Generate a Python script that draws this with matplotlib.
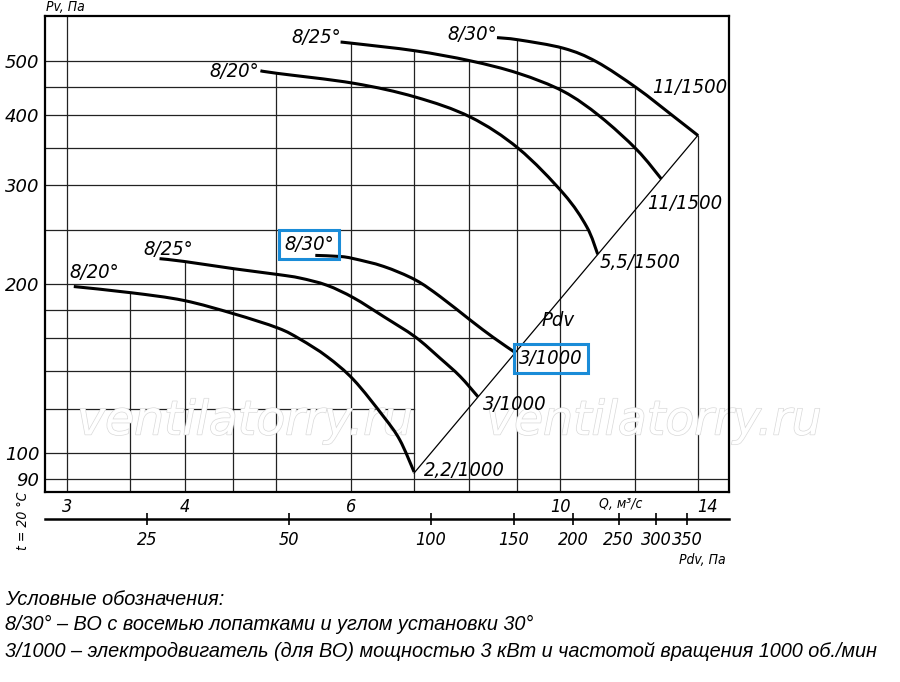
import matplotlib
matplotlib.use('Agg')
import matplotlib.pyplot as plt
import matplotlib.patheffects as pe
from matplotlib.font_manager import FontProperties
from matplotlib.ticker import NullLocator, NullFormatter
from matplotlib.transforms import ScaledTranslation
from matplotlib.path import Path
from matplotlib.patches import PathPatch
import numpy as np

# fan 8 curves, Q in m3/s, Pv in Pa
# lower group (1000 rpm)
q_20_low = [3.05, 3.51, 3.99, 4.51, 5.02, 5.30, 5.66, 6.04, 6.50, 6.76, 7.0]
pv_20_low = [198, 193, 187, 177, 167, 159.5, 148.5, 135, 116, 105.5, 92.5]
q_25_low = [3.76, 3.99, 4.51, 5.02, 5.30, 5.66, 6.04, 6.50, 7.02, 7.46, 7.83, 8.18]
pv_25_low = [222, 219.5, 213, 208, 205, 199, 189, 175, 161, 147.5, 137, 126]
q_30_low = [5.50, 5.84, 6.04, 6.50, 7.02, 7.46, 8.03, 8.50, 8.96]
pv_30_low = [225, 224, 222, 215, 203.5, 190, 172.5, 160.5, 151]
# upper group (1500 rpm)
q_20_up = [4.81, 5.01, 6.04, 7.02, 8.03, 9.03, 10.08, 10.67, 10.96]
pv_20_up = [480, 475, 456, 431, 397, 349, 290, 253, 226]
q_25_up = [5.85, 6.04, 7.02, 8.03, 9.03, 10.08, 11.02, 12.06, 12.8]
pv_25_up = [540, 537, 521, 500, 475, 441, 398, 347, 308]
q_30_up = [8.57, 9.03, 10.08, 10.93, 12.06, 13.19, 14.0]
pv_30_up = [550, 545, 526.5, 498, 447, 398, 368]

angle_labels = ['8/20°', '8/25°', '8/30°', '8/20°', '8/25°', '8/30°']
motor_labels = ['2,2/1000', '3/1000', '3/1000', '5,5/1500', '11/1500', '11/1500']

# dynamic pressure line Pdv
pdv_line_q = [7.0, 14.0]
pdv_line_pv = [92.1, 368.5]
K_PDV = 1.88  # Pdv = K * Q^2

q_grid = [3, 3.5, 4, 4.5, 5, 6, 7, 8, 9, 10, 12, 14]
q_ticks = [3, 4, 6, 10, 14]
pv_grid = [90, 100, 120, 140, 160, 180, 200, 250, 300, 350, 400, 450, 500]
pv_ticks = [90, 100, 200, 300, 400, 500]
pdv_ticks = [25, 50, 100, 150, 200, 250, 300, 350]

XMIN, XMAX = 2.843, 15.1
YMIN, YMAX = 85.2, 601

BLUE = '#1a8cd8'

fp_tick = FontProperties(family='DejaVu Sans', style='oblique', size=13)
fp_tickc = FontProperties(family='DejaVu Sans', style='oblique', stretch='condensed', size=13)
fp_lab = FontProperties(family='DejaVu Sans', style='oblique', stretch='condensed', size=14.5)
fp_small = FontProperties(family='DejaVu Sans', style='oblique', stretch='condensed', size=10)
fp_note = FontProperties(family=['Liberation Sans', 'DejaVu Sans'], style='italic', size=14.3)

fig = plt.figure(figsize=(9, 6.82), dpi=100)
ax = fig.add_axes([45 / 900, 190 / 682, 684 / 900, 476 / 682])
ax.set_xscale('log')
ax.set_yscale('log')
ax.set_xlim(XMIN, XMAX)
ax.set_ylim(YMIN, YMAX)

curves = [(q_20_low, pv_20_low), (q_25_low, pv_25_low), (q_30_low, pv_30_low),
          (q_20_up, pv_20_up), (q_25_up, pv_25_up), (q_30_up, pv_30_up)]


def pv_at(q, qs, pvs):
    return 10 ** np.interp(np.log10(q), np.log10(qs), np.log10(pvs))


def q_at(p, qs, pvs):
    return 10 ** np.interp(np.log10(p), np.log10(pvs[::-1]), np.log10(qs[::-1]))


def smooth_path(qs, pvs):
    # bezier path through the read points (control points built in log space)
    P = np.column_stack([np.log10(qs), np.log10(pvs)])
    ext = np.vstack([P[0], P, P[-1]])
    verts = [P[0]]
    codes = [Path.MOVETO]
    for i in range(len(P) - 1):
        c1 = ext[i + 1] + (ext[i + 2] - ext[i]) / 6
        c2 = ext[i + 2] - (ext[i + 3] - ext[i + 1]) / 6
        verts += [c1, c2, P[i + 1]]
        codes += [Path.CURVE4] * 3
    return Path(10 ** np.array(verts), codes)


# grid, clipped to the working area like in the original
grid_kw = dict(color='#222222', lw=0.9, zorder=1)
for q in q_grid:
    tops = [pv_at(q, c[0], c[1]) for c in curves if c[0][0] <= q <= c[0][-1]]
    top = max(tops) if tops else YMAX
    ax.plot([q, q], [YMIN, top], **grid_kw)
for p in pv_grid:
    if p < pdv_line_pv[0]:
        right = XMAX
    else:
        cands = []
        if p <= pdv_line_pv[1]:
            cands.append(q_at(p, pdv_line_q, pdv_line_pv))
        for c in curves:
            if min(c[1]) <= p <= max(c[1]):
                cands.append(q_at(p, c[0], c[1]))
        right = max(cands) if cands else XMAX
    ax.plot([XMIN, right], [p, p], **grid_kw)

ax.plot(pdv_line_q, pdv_line_pv, color='black', lw=0.9, zorder=2)

for q, pv in curves:
    ax.add_patch(PathPatch(smooth_path(q, pv), fc='none', ec='black', lw=2.2,
                           capstyle='butt', joinstyle='round', zorder=3))

# angle labels at curve start: (ha, dx, dy) in pixels
start_pos = [('left', -4, 9), ('left', -16, 4), ('left', -31, 5),
             ('right', -1, -6), ('right', 0, -1), ('right', 0, -2)]
end_pos = [(10, -4), (5, -13), (4, -11), (2, -14), (-14, -30), (-46, 43)]
for i, (q, pv) in enumerate(curves):
    ha, dx, dy = start_pos[i]
    box = dict(boxstyle='square,pad=0.25', fc='none', ec=BLUE, lw=2.2) if i == 2 else None
    ax.annotate(angle_labels[i], (q[0], pv[0]), xytext=(dx, dy), textcoords='offset pixels',
                ha=ha, va='baseline', fontproperties=fp_lab, bbox=box, zorder=4)
    dx, dy = end_pos[i]
    box = dict(boxstyle='square,pad=0.25', fc='none', ec=BLUE, lw=2.2) if i == 2 else None
    ax.annotate(motor_labels[i], (q[-1], pv[-1]), xytext=(dx, dy), textcoords='offset pixels',
                ha='left', va='baseline', fontproperties=fp_lab, bbox=box, zorder=4)

ax.text(9.55, 172, 'Pdv', ha='left', va='center', fontproperties=fp_lab, zorder=4)

# ticks
ax.xaxis.set_minor_locator(NullLocator())
ax.xaxis.set_minor_formatter(NullFormatter())
ax.yaxis.set_minor_locator(NullLocator())
ax.yaxis.set_minor_formatter(NullFormatter())
ax.set_xticks(q_ticks)
ax.set_xticklabels([str(v) for v in q_ticks])
ax.set_yticks(pv_ticks)
ax.set_yticklabels([str(v) for v in pv_ticks])
ax.tick_params(axis='both', length=0)
ax.tick_params(axis='x', pad=4)
ax.tick_params(axis='y', pad=4)
for lbl in ax.get_xticklabels():
    lbl.set_fontproperties(fp_tickc)
for lbl in ax.get_yticklabels():
    lbl.set_fontproperties(fp_tick)
ax.get_xticklabels()[-1].set_transform(
    ax.get_xticklabels()[-1].get_transform() + ScaledTranslation(0.09, 0, fig.dpi_scale_trans))
for s in ax.spines.values():
    s.set_linewidth(1.6)

# secondary Pdv scale under the Q axis
sec = ax.secondary_xaxis(-0.0567, functions=(lambda q: K_PDV * np.asarray(q) ** 2,
                                             lambda p: np.sqrt(np.maximum(p, 1e-9) / K_PDV)))
sec.xaxis.set_minor_locator(NullLocator())
sec.xaxis.set_minor_formatter(NullFormatter())
sec.set_xticks(pdv_ticks)
sec.set_xticklabels([str(v) for v in pdv_ticks])
sec.tick_params(axis='x', direction='inout', length=9, width=1.2, pad=4.5)
sec.spines['bottom'].set_linewidth(1.8)
for lbl in sec.get_xticklabels():
    lbl.set_fontproperties(fp_tickc)

# axis titles
fig.text(46 / 900, 1 - 7 / 682, 'Pv, Па', ha='left', va='center', fontproperties=fp_small)
fig.text(621 / 900, 1 - 504 / 682, 'Q, м³/с', ha='center', va='center', fontproperties=fp_small)
fig.text(702 / 900, 1 - 560 / 682, 'Pdv, Па', ha='center', va='center', fontproperties=fp_small)
fig.text(23 / 900, 1 - 521 / 682, 't = 20 °C', ha='center', va='center', rotation=90,
         fontproperties=fp_small)

# watermark
for xw in [245, 654]:
    ax.text(xw / 900, 1 - 422 / 682, 'ventilatorry.ru', transform=fig.transFigure,
            ha='center', va='center', fontsize=34, style='oblique', color='white',
            path_effects=[pe.Stroke(linewidth=1.0, foreground='#d9d9d9'), pe.Normal()],
            zorder=1.5, clip_on=False)

# notes
notes = ['Условные обозначения:',
         '8/30° – ВО с восемью лопатками и углом установки 30°',
         '3/1000 – электродвигатель (для ВО) мощностью 3 кВт и частотой вращения 1000 об./мин']
for y, t in zip([605, 630, 657], notes):
    fig.text(5 / 900, 1 - y / 682, t, ha='left', va='baseline', fontproperties=fp_note)

fig.savefig('out.png', dpi=100)
